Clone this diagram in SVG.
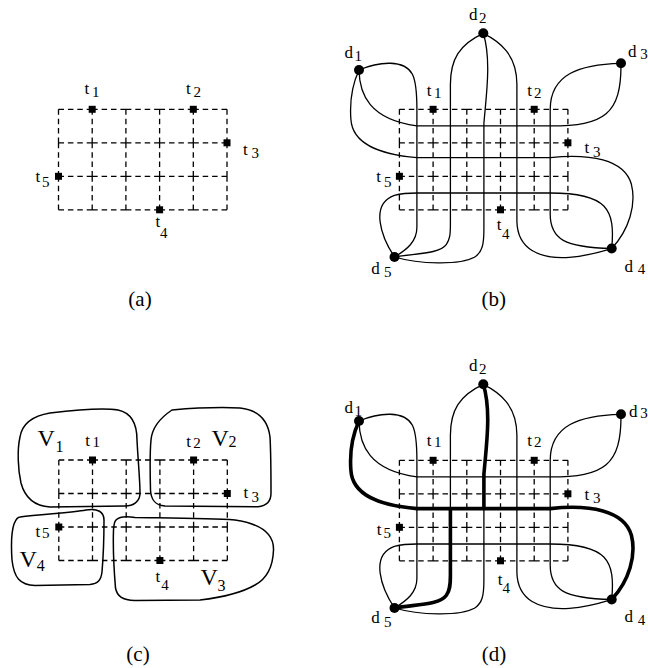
<svg xmlns="http://www.w3.org/2000/svg" width="648" height="668" viewBox="0 0 648 668">
<style>
.grid{fill:none;stroke:#000;stroke-width:1.3;stroke-dasharray:5.5 3.9}
.wire{fill:none;stroke:#000;stroke-width:1.3}
.thick{fill:none;stroke:#000;stroke-width:3.6;stroke-linecap:round;stroke-linejoin:round}
.region{fill:none;stroke:#000;stroke-width:1.5}
rect.term,circle.dot{fill:#000}
text{font-family:"Liberation Serif","Times New Roman",serif;fill:#000}
.lb{font-size:17px}
.sb{font-size:15px}
.vl{font-size:24px}
.vs{font-size:16px}
.cap{font-size:21px}
</style>
<rect width="648" height="668" fill="#fff"/>
<defs>
<path id="grid" class="grid" d="M0,0h33.7M33.7,0h33.7M67.4,0h33.7M101.1,0h33.7M134.8,0h33.7M0,33.5h33.7M33.7,33.5h33.7M67.4,33.5h33.7M101.1,33.5h33.7M134.8,33.5h33.7M0,67h33.7M33.7,67h33.7M67.4,67h33.7M101.1,67h33.7M134.8,67h33.7M0,100.5h33.7M33.7,100.5h33.7M67.4,100.5h33.7M101.1,100.5h33.7M134.8,100.5h33.7M0,0v33.5M0,33.5v33.5M0,67v33.5M33.7,0v33.5M33.7,33.5v33.5M33.7,67v33.5M67.4,0v33.5M67.4,33.5v33.5M67.4,67v33.5M101.1,0v33.5M101.1,33.5v33.5M101.1,67v33.5M134.8,0v33.5M134.8,33.5v33.5M134.8,67v33.5M168.5,0v33.5M168.5,33.5v33.5M168.5,67v33.5"/>
<g id="wires" class="wire">
<path d="M-40.4,-39.3 C-20,-48 5,-50 13,-35 C17,-27 17.5,-15 17.5,0 L17.5,118 C17.5,132 8,140 -4.9,147.7"/>
<path d="M-40.4,-39.3 C-40,-15 -30,10 17.5,16.6 L150.8,16.6 C205,16.6 222,5 221.6,-46"/>
<path d="M-40.4,-39.3 C-47,-25 -50,-10 -48.5,10 C-47,35 -20,45 17.5,48.3 L150.8,48.3 C190,44 225,50 232,75 C237,95 230,120 212.3,139.2"/>
<path d="M-4.9,147.7 C-18,128 -30,95 -5,86 C3,84 10,83.7 17.5,83.7 L150.8,83.7 C208,83.7 216,100 212.3,139.2"/>
<path d="M-4.9,147.7 C15,144 40,145 47,135 C50.5,130 51,125 51,115 L51,-25 C51,-50 60,-65 83.9,-76"/>
<path d="M-4.9,147.7 C20,155 60,156 75,148 C83,143 84.5,135 84.5,120 L84.5,14 C87,-15 92,-50 83.9,-76"/>
<path d="M83.9,-76 C100,-68 117.5,-55 117.5,-25 L117.5,112 C118,140 140,150 170,148 C190,146.5 200,143 212.3,139.2"/>
<path d="M221.6,-46 C180,-45 151,-35 150.8,0 L150.8,105 C151,130 165,138 212.3,139.2"/>
</g>
</defs>

<!-- Panel (a) -->
<g id="panel-a">
<use href="#grid" transform="translate(58.5,109.3)"/>
<g id="a-t1"><rect class="term" x="88.7" y="105.8" width="7" height="7"/><text class="lb" x="84.5" y="94.3">t<tspan class="sb" x="92" y="96.5">1</tspan></text></g>
<g id="a-t2"><rect class="term" x="189.8" y="105.8" width="7" height="7"/><text class="lb" x="186" y="94.3">t<tspan class="sb" x="193.5" y="96.5">2</tspan></text></g>
<g id="a-t3"><rect class="term" x="223.5" y="139.3" width="7" height="7"/><text class="lb" x="243" y="155">t<tspan class="sb" x="251.5" y="158.3">3</tspan></text></g>
<g id="a-t5"><rect class="term" x="55" y="172.8" width="7" height="7"/><text class="lb" x="35.5" y="181.7">t<tspan class="sb" x="42" y="187">5</tspan></text></g>
<g id="a-t4"><rect class="term" x="156.1" y="206.3" width="7" height="7"/><text class="lb" x="155.5" y="226.7">t<tspan class="sb" x="160" y="237.5">4</tspan></text></g>
<text class="cap" x="140" y="306" text-anchor="middle">(a)</text>
</g>

<!-- Panel (b) -->
<g id="panel-b">
<use href="#grid" transform="translate(399.4,109.3)"/>
<g id="b-connectors"><use href="#wires" transform="translate(399.4,109.3)"/></g>
<g id="b-t1"><rect class="term" x="429.6" y="105.8" width="7" height="7"/><text class="lb" x="426.8" y="96">t<tspan class="sb" x="434" y="97.7">1</tspan></text></g>
<g id="b-t2"><rect class="term" x="530.7" y="105.8" width="7" height="7"/><text class="lb" x="527.2" y="96">t<tspan class="sb" x="534" y="97.7">2</tspan></text></g>
<g id="b-t3"><rect class="term" x="564.4" y="139.3" width="7" height="7"/><text class="lb" x="584.5" y="152.7">t<tspan class="sb" x="593" y="156.7">3</tspan></text></g>
<g id="b-t5"><rect class="term" x="395.9" y="172.8" width="7" height="7"/><text class="lb" x="376.2" y="181.7">t<tspan class="sb" x="384" y="186.7">5</tspan></text></g>
<g id="b-t4"><rect class="term" x="497" y="206.3" width="7" height="7"/><text class="lb" x="496.8" y="230">t<tspan class="sb" x="502" y="239.3">4</tspan></text></g>
<g id="b-d1"><circle class="dot" cx="359" cy="70" r="5"/><text class="lb" x="344.5" y="58.3">d<tspan class="sb" x="354.5" y="60.7">1</tspan></text></g>
<g id="b-d2"><circle class="dot" cx="483.3" cy="33.3" r="5"/><text class="lb" x="469" y="19.7">d<tspan class="sb" x="479" y="23">2</tspan></text></g>
<g id="b-d3"><circle class="dot" cx="621" cy="63.3" r="5"/><text class="lb" x="628" y="57.3">d<tspan class="sb" x="640.3" y="59">3</tspan></text></g>
<g id="b-d4"><circle class="dot" cx="611.7" cy="248.5" r="5"/><text class="lb" x="624.5" y="271.7">d<tspan class="sb" x="637.8" y="274">4</tspan></text></g>
<g id="b-d5"><circle class="dot" cx="394.5" cy="257" r="5"/><text class="lb" x="371.2" y="274">d<tspan class="sb" x="384" y="276.7">5</tspan></text></g>
<text class="cap" x="493.7" y="306" text-anchor="middle">(b)</text>
</g>

<!-- Panel (c) -->
<g id="panel-c">
<use href="#grid" transform="translate(58.8,460)"/>
<g id="c-regions">
<path id="c-V1" class="region" d="M50,413 C75,410 105,408 118,410 C132,413 137,425 137,440 C138,460 140,480 140,493 C140,502 133,506 125,506 L50,507 C35,506 25,498 21,483 C18,470 17,450 20,437 C22,425 32,416 50,413 Z"/>
<path id="c-V2" class="region" d="M172,410 C195,408 220,407 240,408 C258,410 268,420 270,437 C271,455 271,480 271,493 C271,502 266,506 258,506.7 L165,506 C155,505 151,500 150.5,490 C150,470 150,450 151,440 C152,428 160,418 172,410 Z"/>
<path id="c-V4" class="region" d="M20,517 C40,514 70,513 86,510 C98,508 104,512 104,520 C104,540 103,560 102,572 C101,580 98,584 90,584.5 L35,585.5 C20,585 14,578 12,560 C11,545 12,530 14,524 C16,519 18,517 20,517 Z"/>
<path id="c-V3" class="region" d="M116,520 C120,516 126,516 135,517.5 C170,518 210,518 235,520 C262,524 274,535 273.5,550 C273,565 268,578 255,585 C243,592 225,597 200,600 L135,600.5 C122,600 117,596 115.5,588 C114,570 113,545 113.5,530 C114,524 114,522 116,520 Z"/>
</g>
<g id="c-t1"><rect class="term" x="89" y="456.5" width="7" height="7"/><text class="lb" x="85.2" y="446">t<tspan class="sb" x="92.4" y="446.7">1</tspan></text></g>
<g id="c-t2"><rect class="term" x="190.1" y="456.5" width="7" height="7"/><text class="lb" x="186.2" y="447.3">t<tspan class="sb" x="193.2" y="448.3">2</tspan></text></g>
<g id="c-t3"><rect class="term" x="223.8" y="490" width="7" height="7"/><text class="lb" x="243.5" y="498.3">t<tspan class="sb" x="251.5" y="501.7">3</tspan></text></g>
<g id="c-t5"><rect class="term" x="55.3" y="523.5" width="7" height="7"/><text class="lb" x="35.5" y="536.7">t<tspan class="sb" x="42" y="538.3">5</tspan></text></g>
<g id="c-t4"><rect class="term" x="156.4" y="557" width="7" height="7"/><text class="lb" x="155.5" y="581.7">t<tspan class="sb" x="161.2" y="590">4</tspan></text></g>
<g id="c-v1"><text class="vl" x="37.5" y="446">V<tspan class="vs" x="55.5" y="451.7">1</tspan></text></g>
<g id="c-v2"><text class="vl" x="211.5" y="446">V<tspan class="vs" x="228.5" y="447.3">2</tspan></text></g>
<g id="c-v4"><text class="vl" x="19.5" y="566.7">V<tspan class="vs" x="36.8" y="570.5">4</tspan></text></g>
<g id="c-v3"><text class="vl" x="200.5" y="585">V<tspan class="vs" x="217.5" y="590.7">3</tspan></text></g>
<text class="cap" x="138" y="661" text-anchor="middle">(c)</text>
</g>

<!-- Panel (d) -->
<g id="panel-d">
<use href="#grid" transform="translate(399.4,460.3)"/>
<g id="d-connectors">
<use href="#wires" transform="translate(399.4,460.3)"/>
<g transform="translate(399.4,460.3)">
<path class="thick" d="M-40.4,-39.3 C-47,-25 -50,-10 -48.5,10 C-47,35 -20,45 17.5,48.3 L150.8,48.3 C190,44 225,50 232,75 C237,95 230,120 212.3,139.2"/>
<path class="thick" d="M83.9,-76 C92,-50 87,-15 84.5,14 L84.5,48.3"/>
<path class="thick" d="M51,48.3 L51,115 C51,125 50.5,130 47,135 C40,145 15,144 -4.9,147.7"/>
</g>
</g>
<g id="d-t1"><rect class="term" x="429.6" y="456.8" width="7" height="7"/><text class="lb" x="426.8" y="446">t<tspan class="sb" x="434" y="447.3">1</tspan></text></g>
<g id="d-t2"><rect class="term" x="530.7" y="456.8" width="7" height="7"/><text class="lb" x="527.2" y="446">t<tspan class="sb" x="534" y="447.3">2</tspan></text></g>
<g id="d-t3"><rect class="term" x="564.4" y="490.3" width="7" height="7"/><text class="lb" x="584.5" y="500">t<tspan class="sb" x="593" y="503">3</tspan></text></g>
<g id="d-t5"><rect class="term" x="395.9" y="523.8" width="7" height="7"/><text class="lb" x="376.8" y="535">t<tspan class="sb" x="383.5" y="538.3">5</tspan></text></g>
<g id="d-t4"><rect class="term" x="497" y="557.3" width="7" height="7"/><text class="lb" x="497.8" y="585">t<tspan class="sb" x="502.5" y="592.7">4</tspan></text></g>
<g id="d-d1"><circle class="dot" cx="359" cy="421" r="5"/><text class="lb" x="344.5" y="413.3">d<tspan class="sb" x="354.5" y="415.7">1</tspan></text></g>
<g id="d-d2"><circle class="dot" cx="483.3" cy="384.3" r="5"/><text class="lb" x="469" y="370.7">d<tspan class="sb" x="479" y="374">2</tspan></text></g>
<g id="d-d3"><circle class="dot" cx="621" cy="414.3" r="5"/><text class="lb" x="629" y="416.7">d<tspan class="sb" x="640.3" y="418">3</tspan></text></g>
<g id="d-d4"><circle class="dot" cx="611.7" cy="599.5" r="5"/><text class="lb" x="624.5" y="621.7">d<tspan class="sb" x="637.8" y="625">4</tspan></text></g>
<g id="d-d5"><circle class="dot" cx="394.5" cy="608" r="5"/><text class="lb" x="371.2" y="623.3">d<tspan class="sb" x="384" y="626.7">5</tspan></text></g>
<text class="cap" x="494" y="661" text-anchor="middle">(d)</text>
</g>
</svg>
